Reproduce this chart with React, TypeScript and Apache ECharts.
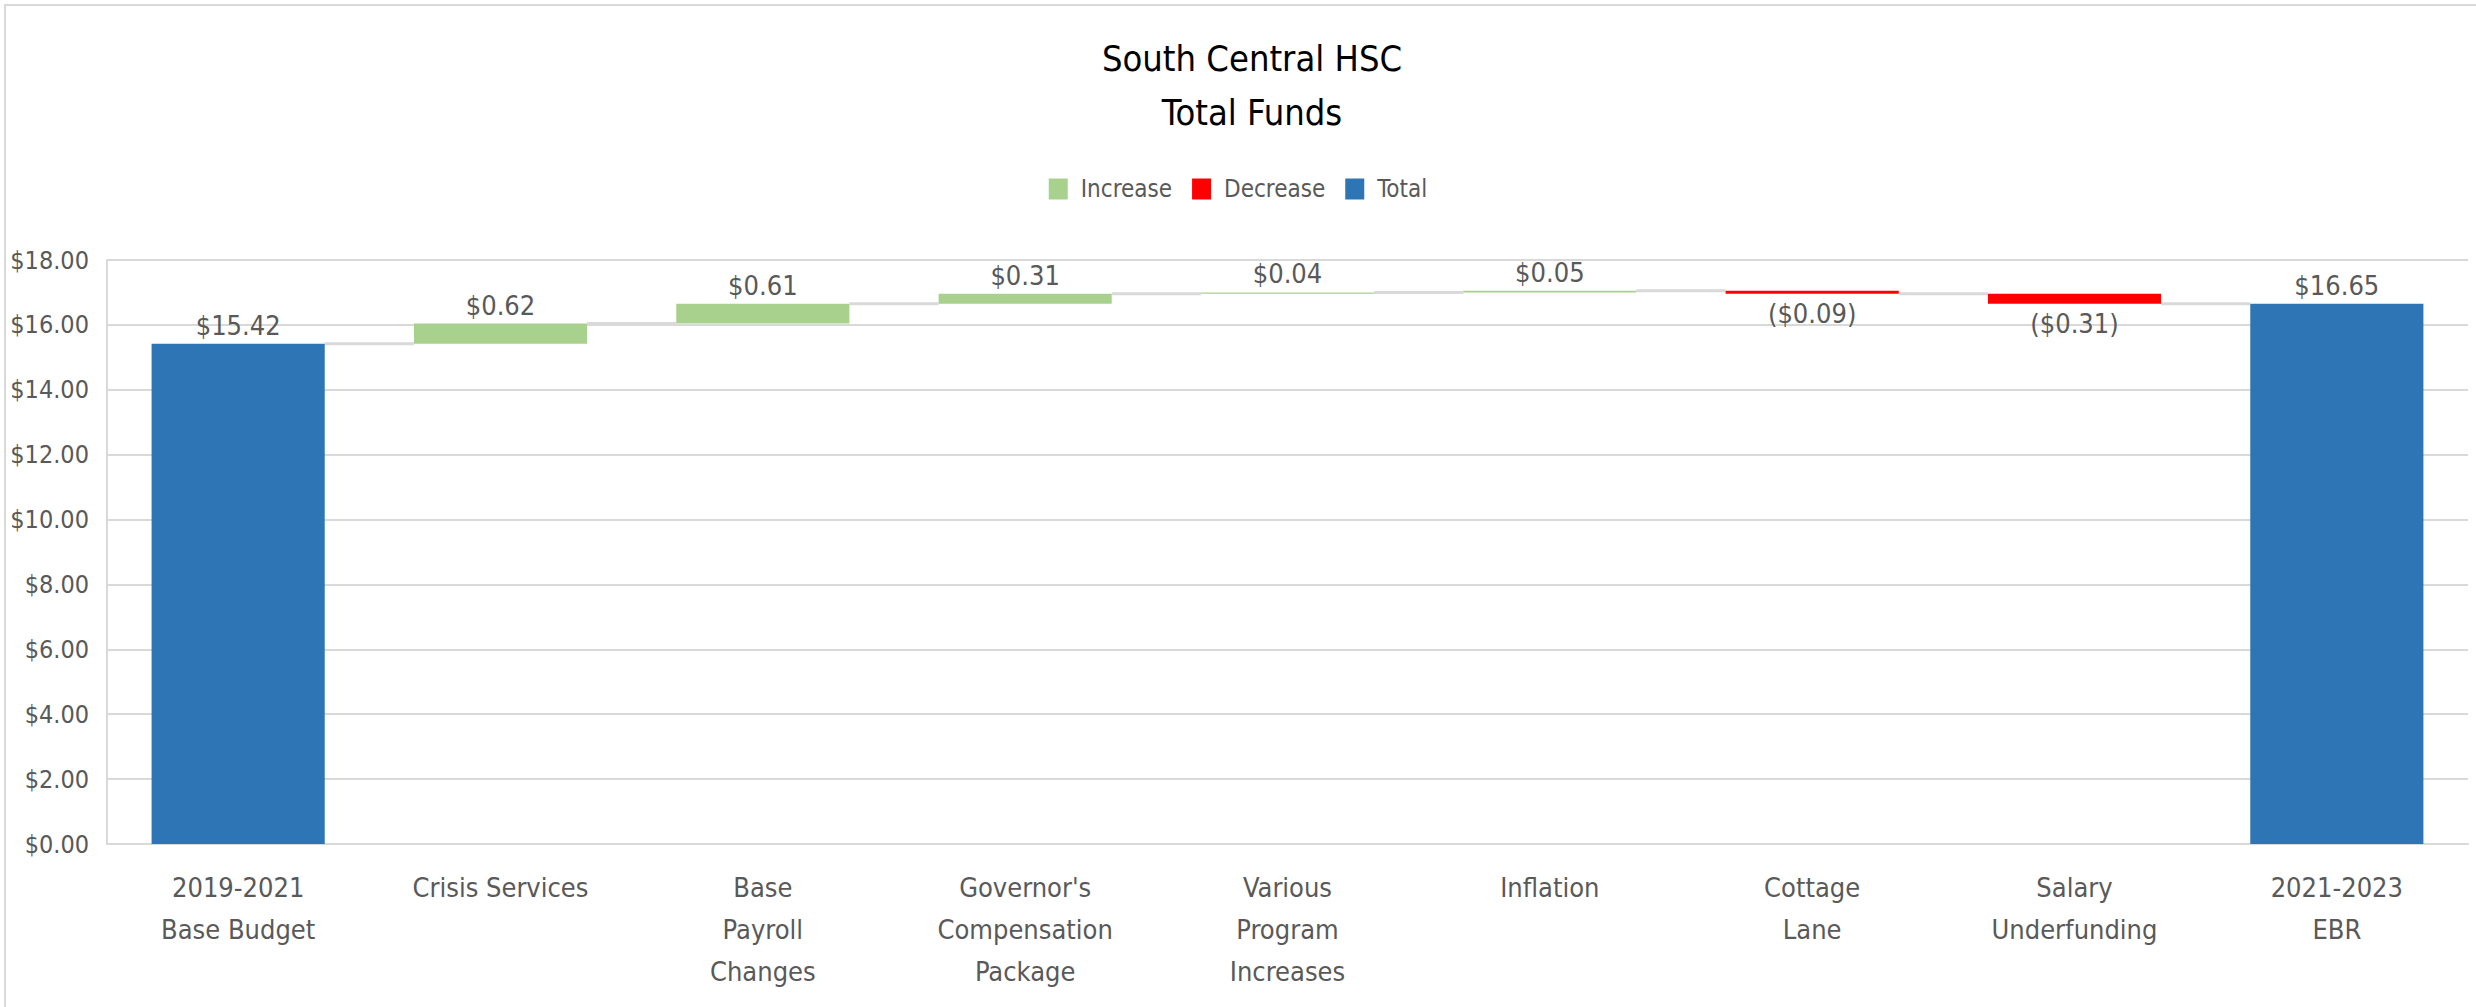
import React, { useEffect, useRef } from "react";
import * as echarts from "echarts";

const categories = [
  "2019-2021\nBase Budget",
  "Crisis Services",
  "Base\nPayroll\nChanges",
  "Governor's\nCompensation\nPackage",
  "Various\nProgram\nIncreases",
  "Inflation",
  "Cottage\nLane",
  "Salary\nUnderfunding",
  "2021-2023\nEBR",
];
const changes = [15.42, 0.62, 0.61, 0.31, 0.04, 0.05, -0.09, -0.31, 16.65];
const kinds = ["total", "inc", "inc", "inc", "inc", "inc", "dec", "dec", "total"];
const legendNames = ["Increase", "Decrease", "Total"];
const yMin = 0;
const yMax = 18;
const yInterval = 2;

const FONT = "'Liberation Sans Narrow', 'DejaVu Sans Condensed', 'Liberation Sans', sans-serif";
const r2 = (x: number) => Math.round(x * 100) / 100;

export default function App() {
  const ref = useRef<HTMLDivElement>(null);
  useEffect(() => {
    if (!ref.current) return;
    const chart = echarts.init(ref.current, undefined, { renderer: "svg" });

    const base: (number | string)[] = [];
    const inc: (number | string)[] = [];
    const dec: (number | string)[] = [];
    const tot: (number | string)[] = [];
    const connectors: number[][] = [];
    let running = 0;
    changes.forEach((c, i) => {
      const k = kinds[i];
      if (k === "total") {
        base.push(0);
        tot.push(c);
        inc.push("-");
        dec.push("-");
        running = c;
      } else if (k === "inc") {
        base.push(r2(running));
        inc.push(c);
        dec.push("-");
        tot.push("-");
        running = r2(running + c);
      } else {
        running = r2(running + c);
        base.push(running);
        dec.push(-c);
        inc.push("-");
        tot.push("-");
      }
      if (i < changes.length - 1) connectors.push([i, running]);
    });

    const barGap = "34%";
    const labelStyle = { color: "#595959", fontSize: 27, fontFamily: FONT };

    chart.setOption({
      animation: false,
      backgroundColor: "#ffffff",
      textStyle: { fontFamily: FONT },
      graphic: [
        {
          type: "rect",
          silent: true,
          shape: { x: 5, y: 5, width: 2600, height: 1100 },
          style: { fill: "none", stroke: "#d9d9d9", lineWidth: 2 },
        },
      ],
      title: {
        text: "South Central HSC\nTotal Funds",
        left: 1247,
        top: 26,
        textAlign: "center",
        textStyle: {
          fontFamily: FONT,
          fontSize: 36,
          lineHeight: 54,
          fontWeight: "normal",
          color: "#000000",
          align: "center",
        },
      },
      legend: {
        data: legendNames,
        top: 172,
        left: "center",
        icon: "rect",
        itemWidth: 19,
        itemHeight: 21,
        itemGap: 20,
        textStyle: { color: "#595959", fontSize: 24, fontFamily: FONT, padding: [0, 0, 0, 8] },
      },
      grid: { left: 107, right: 8, top: 260, bottom: 163, containLabel: false },
      xAxis: {
        type: "category",
        data: categories,
        axisLine: { show: true, lineStyle: { color: "#d9d9d9", width: 2 } },
        axisTick: { show: false },
        axisLabel: {
          interval: 0,
          margin: 22,
          color: "#595959",
          fontSize: 27,
          lineHeight: 42,
          fontFamily: FONT,
        },
      },
      yAxis: {
        type: "value",
        min: yMin,
        max: yMax,
        interval: yInterval,
        axisLine: { show: true, lineStyle: { color: "#d9d9d9", width: 2 } },
        axisTick: { show: false },
        splitLine: { show: true, lineStyle: { color: "#d9d9d9", width: 2 } },
        axisLabel: {
          margin: 18,
          color: "#595959",
          fontSize: 25,
          fontFamily: FONT,
          formatter: (v: number) => "$" + v.toFixed(2),
        },
      },
      series: [
        {
          name: "connector",
          type: "custom",
          silent: true,
          z: 1,
          encode: { x: 0, y: 1 },
          data: connectors,
          renderItem: (params: any, api: any) => {
            const i = api.value(0);
            const lvl = api.value(1);
            const p1 = api.coord([i, lvl]);
            const p2 = api.coord([i + 1, lvl]);
            const bw = api.size([1, 0])[0] * 0.66;
            return {
              type: "line",
              shape: { x1: p1[0] + bw / 2, y1: p1[1], x2: p2[0] - bw / 2, y2: p1[1] },
              style: { stroke: "#d9d9d9", lineWidth: 3 },
            };
          },
        },
        {
          name: "base",
          type: "bar",
          stack: "w",
          silent: true,
          barCategoryGap: barGap,
          itemStyle: { color: "transparent" },
          data: base,
          z: 2,
        },
        {
          name: "Increase",
          type: "bar",
          stack: "w",
          barCategoryGap: barGap,
          itemStyle: { color: "#a9d18e" },
          data: inc,
          z: 2,
          label: {
            show: true,
            position: "top",
            distance: 5,
            ...labelStyle,
            formatter: (p: any) => "$" + Number(p.value).toFixed(2),
          },
        },
        {
          name: "Decrease",
          type: "bar",
          stack: "w",
          barCategoryGap: barGap,
          itemStyle: { color: "#ff0000" },
          data: dec,
          z: 2,
          label: {
            show: true,
            position: "bottom",
            distance: 6,
            ...labelStyle,
            formatter: (p: any) => "($" + Number(p.value).toFixed(2) + ")",
          },
        },
        {
          name: "Total",
          type: "bar",
          stack: "w",
          barCategoryGap: barGap,
          itemStyle: { color: "#2e75b6" },
          data: tot,
          z: 2,
          label: {
            show: true,
            position: "top",
            distance: 5,
            ...labelStyle,
            formatter: (p: any) => "$" + Number(p.value).toFixed(2),
          },
        },
      ],
    });
    return () => chart.dispose();
  }, []);
  return (
    <div
      ref={ref}
      style={{ position: "fixed", left: 0, top: 0, width: 2476, height: 1007 }}
    />
  );
}
